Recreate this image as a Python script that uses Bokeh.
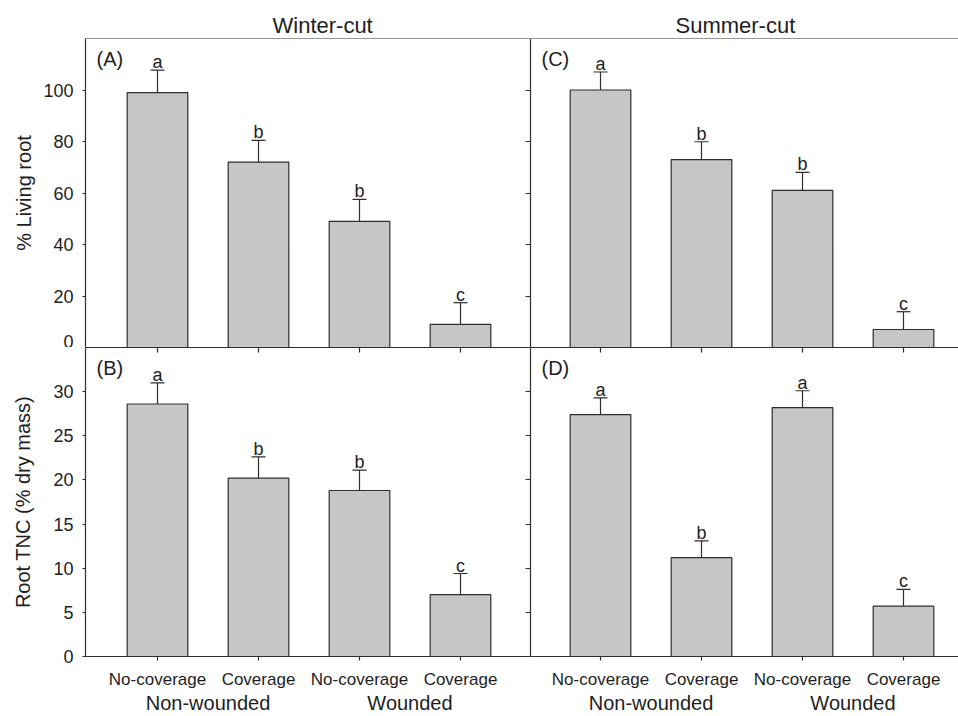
from bokeh.plotting import figure
from bokeh.layouts import gridplot
from bokeh.models import (ColumnDataSource, Range1d, LinearAxis, FixedTicker,
                          Whisker, TeeHead, Label, Span, CustomLabelingPolicy)
from bokeh.core.properties import value
from bokeh.embed import file_html
from bokeh.resources import INLINE

FONT = "Liberation Sans"
INK = "#2e2e2e"
TXT = "#1e1e1e"
BAR = "#c6c6c6"

# ---------------- data ----------------
seasons = ["Winter-cut", "Summer-cut"]
treatments = ["No-coverage", "Coverage", "No-coverage", "Coverage"]
wounding = ["Non-wounded", "Non-wounded", "Wounded", "Wounded"]
wound_groups = ["Non-wounded", "Wounded"]

living_winter = [99.0, 72.0, 49.0, 9.0]
living_winter_se = [8.7, 8.4, 8.5, 8.4]
living_winter_letters = ["a", "b", "b", "c"]

living_summer = [100.0, 73.0, 61.0, 7.0]
living_summer_se = [7.0, 6.9, 7.0, 6.9]
living_summer_letters = ["a", "b", "b", "c"]

tnc_winter = [28.6, 20.2, 18.8, 7.0]
tnc_winter_se = [2.4, 2.4, 2.3, 2.4]
tnc_winter_letters = ["a", "b", "b", "c"]

tnc_summer = [27.4, 11.2, 28.2, 5.7]
tnc_summer_se = [1.9, 1.9, 1.9, 1.9]
tnc_summer_letters = ["a", "b", "a", "c"]

living_ticks = [0, 20, 40, 60, 80, 100]
tnc_ticks = [0, 5, 10, 15, 20, 25, 30]
panel_tags = ["(A)", "(B)", "(C)", "(D)"]
ylabel_living = "% Living root"
ylabel_tnc = "Root TNC (% dry mass)"

# ---------------- layout constants ----------------
BL = 85          # left border of left column
FW_L = 445       # frame width, left column
FW_R = 428       # frame width, right column (cropped at the page edge)
BT = 38          # top border
FH = 309         # frame height of each panel
BB = 60          # bottom border
UNIT = 101.0     # px per category

positions = [i + 1 for i in range(len(treatments))]
group_pos = {}
for g in wound_groups:
    xs = [x for x, w in zip(positions, wounding) if w == g]
    group_pos[g] = sum(xs) / len(xs)

x_left = Range1d(positions[0] - 72 / UNIT, positions[0] - 72 / UNIT + FW_L / UNIT)
x_right = Range1d(positions[0] - 70 / UNIT, positions[0] - 70 / UNIT + FW_R / UNIT)
y_living = Range1d(0, 120)
y_tnc = Range1d(0, 35)

AX = dict(axis_line_color=INK, axis_line_width=1.2,
          major_tick_line_color=INK, major_tick_line_width=1.2,
          minor_tick_line_color=None, minor_tick_out=0, minor_tick_in=0,
          major_label_text_font=FONT, major_label_text_color=TXT)

NO_LABELS = "for (const i of Array.from(indices)) { indices.unset(i) } return indices"


def hidden_axis(ticks, tick_in=0):
    return LinearAxis(ticker=FixedTicker(ticks=ticks), major_tick_in=tick_in,
                      major_tick_out=0, major_label_text_font_size="0px",
                      major_label_standoff=0,
                      major_label_policy=CustomLabelingPolicy(code=NO_LABELS), **AX)


def top_line(p, yr):
    p.add_layout(Span(location=yr.end, dimension="width", line_color=INK, line_width=1.2))


def panel(vals, errs, letters, tag, xr, yr, width, height, bt, bb, bl):
    p = figure(width=width, height=height, x_range=xr, y_range=yr,
               output_backend="svg", toolbar_location=None, tools="",
               x_axis_location=None, y_axis_location=None,
               min_border_left=bl, min_border_right=0,
               min_border_top=bt, min_border_bottom=bb,
               background_fill_color="white", border_fill_color="white")
    p.xgrid.grid_line_color = None
    p.ygrid.grid_line_color = None
    p.outline_line_color = None
    src = ColumnDataSource(dict(
        x=positions, top=vals,
        upper=[v + e for v, e in zip(vals, errs)],
        letter=letters))
    p.add_layout(Whisker(source=src, base="x", lower="top", upper="upper",
                         dimension="height", lower_head=None,
                         upper_head=TeeHead(size=14, line_color=INK, line_width=1.2),
                         line_color=INK, line_width=1.2))
    p.vbar(x="x", top="top", bottom=0, width=0.6, source=src,
           fill_color=BAR, line_color=INK, line_width=1.2)
    p.text(x="x", y="upper", text="letter", source=src, text_align="center",
           text_baseline="bottom", y_offset=2,
           text_font=value(FONT), text_font_size="18px", text_color=TXT)
    p.add_layout(Label(x=11, y=FH - 9, x_units="screen", y_units="screen",
                       text=tag, text_baseline="top", text_align="left",
                       text_font=FONT, text_font_size="20px", text_color=TXT))
    return p


def set_title(p, text, offset):
    p.title.text = text
    p.title.align = "left"
    p.title.offset = offset
    p.title.text_font = FONT
    p.title.text_font_size = "22px"
    p.title.text_font_style = "normal"
    p.title.text_color = TXT
    p.title.standoff = 2


def bottom_axes(p):
    sub = LinearAxis(ticker=FixedTicker(ticks=positions),
                     major_label_overrides={float(x): t for x, t in zip(positions, treatments)},
                     major_tick_in=0, major_tick_out=4, major_label_standoff=9,
                     major_label_text_font_size="17px", **AX)
    p.add_layout(sub, "below")
    grp = LinearAxis(ticker=FixedTicker(ticks=[group_pos[g] for g in wound_groups]),
                     major_label_overrides={float(group_pos[g]): g for g in wound_groups},
                     major_tick_in=0, major_tick_out=0, major_label_standoff=0,
                     major_label_text_font_size="20px",
                     axis_line_color=None, major_tick_line_color=None,
                     minor_tick_line_color=None,
                     major_label_text_font=FONT, major_label_text_color=TXT)
    p.add_layout(grp, "below")


def left_axis(p, ticks, label, standoff):
    ax = LinearAxis(ticker=FixedTicker(ticks=ticks), major_tick_in=0, major_tick_out=3,
                    major_label_standoff=9, major_label_text_font_size="18px",
                    axis_label=label, axis_label_text_font=FONT,
                    axis_label_text_font_size="20px", axis_label_text_font_style="normal",
                    axis_label_text_color=TXT, axis_label_standoff=standoff, **AX)
    p.add_layout(ax, "left")


# Panel A: winter, living root
pA = panel(living_winter, living_winter_se, living_winter_letters, panel_tags[0],
           x_left, y_living, BL + FW_L, BT + FH, BT, 0, BL)
set_title(pA, seasons[0], 187)
left_axis(pA, living_ticks, ylabel_living, 5)
top_line(pA, y_living)
pA.add_layout(hidden_axis(living_ticks, tick_in=5), "right")   # left ticks of panel C

# Panel B: winter, TNC
pB = panel(tnc_winter, tnc_winter_se, tnc_winter_letters, panel_tags[1],
           x_left, y_tnc, BL + FW_L, FH + BB, 0, BB, BL)
left_axis(pB, tnc_ticks, ylabel_tnc, 16)
pB.add_layout(hidden_axis(tnc_ticks, tick_in=5), "right")      # left ticks of panel D
pB.add_layout(hidden_axis(positions, tick_in=5), "above")      # bottom ticks of panel A
bottom_axes(pB)

# Panel C: summer, living root
pC = panel(living_summer, living_summer_se, living_summer_letters, panel_tags[2],
           x_right, y_living, FW_R, BT + FH, BT, 0, 0)
set_title(pC, seasons[1], 145)
top_line(pC, y_living)
pC.add_layout(hidden_axis([]), "left")

# Panel D: summer, TNC
pD = panel(tnc_summer, tnc_summer_se, tnc_summer_letters, panel_tags[3],
           x_right, y_tnc, FW_R, FH + BB, 0, BB, 0)
pD.add_layout(hidden_axis(positions, tick_in=5), "above")      # bottom ticks of panel C
pD.add_layout(hidden_axis([]), "left")
bottom_axes(pD)

grid = gridplot([[pA, pC], [pB, pD]], toolbar_location=None)

with open("out.html", "w") as f:
    f.write(file_html(grid, INLINE))
